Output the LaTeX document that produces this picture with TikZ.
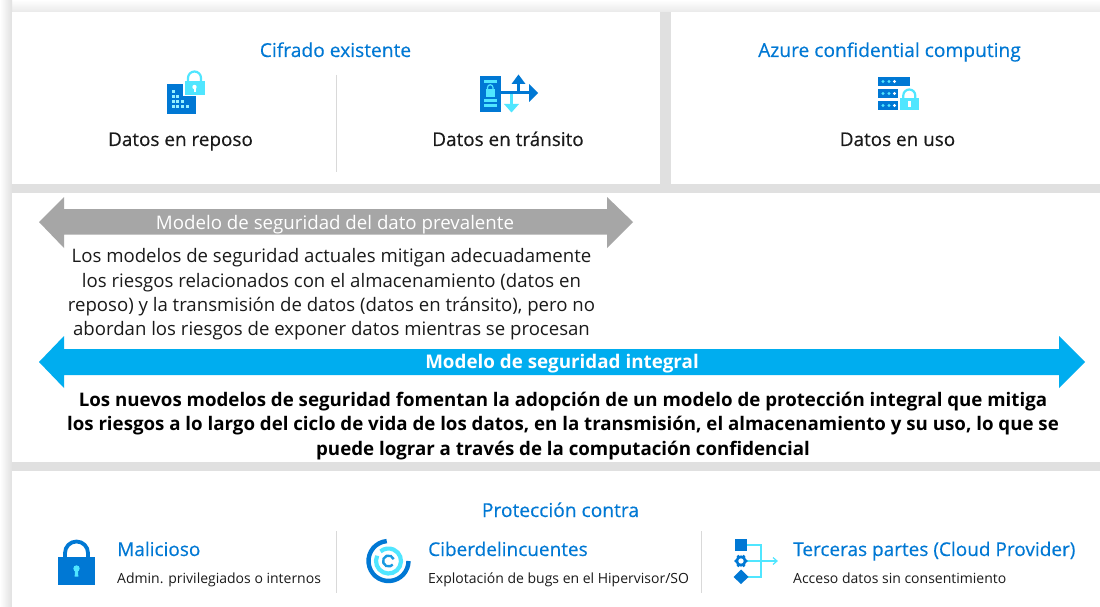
\documentclass[tikz,border=0pt]{standalone}
\usepackage{fontspec}
\setmainfont{Open Sans}
\newfontfamily\semi[FakeBold=0.35]{Open Sans}
\definecolor{azblue}{HTML}{0078D4}
\definecolor{azlight}{HTML}{50E6FF}
\definecolor{azcyan}{HTML}{00ADEF}
\definecolor{arrgray}{HTML}{A6A6A6}
\definecolor{bggray}{HTML}{E0E0E0}
\definecolor{divgray}{HTML}{D9D9D9}
\definecolor{txt}{HTML}{1A1A1A}
\tikzset{
  panel/.style={fill=white,draw=none},
  divider/.style={draw=divgray,line width=1pt},
  headtxt/.style={text=azblue,font=\fontsize{19.2}{22}\semi,inner sep=0pt,anchor=base},
  labeltxt/.style={text=txt,font=\fontsize{18.9}{22}\semi,inner sep=0pt,anchor=base},
  paratxt/.style={text=txt,font=\fontsize{18.6}{24.4}\selectfont,inner sep=0pt,align=center},
  boldtxt/.style={text=black,font=\fontsize{18.7}{24.5}\selectfont\bfseries,inner sep=0pt,align=center},
  subtxt/.style={text=txt,font=\fontsize{14}{16}\selectfont,inner sep=0pt,anchor=base west},
  protxt/.style={text=azblue,font=\fontsize{19}{22}\semi,inner sep=0pt,anchor=base west},
}
\begin{document}
\begin{tikzpicture}[x=1pt,y=-1pt]
\useasboundingbox (0,0) rectangle (1100,607);
\fill[bggray] (0,0) rectangle (1100,607);
\shade[top color=white,bottom color=bggray!70] (0,0) rectangle (1100,12);
\shade[left color=white,right color=bggray] (0,0) rectangle (12,607);
% panels
\fill[panel] (12,12) rectangle (660,184);
\fill[panel] (671,12) rectangle (1100,184);
\fill[panel] (12,193) rectangle (1100,462);
\fill[panel] (12,471) rectangle (1100,607);
% dividers
\coordinate (d1a) at (336,75); \coordinate (d1b) at (336,172);
\draw[divider] (d1a) -- (d1b);
\coordinate (d2a) at (336,531); \coordinate (d2b) at (336,593);
\draw[divider] (d2a) -- (d2b);
\coordinate (d3a) at (701,531); \coordinate (d3b) at (701,593);
\draw[divider] (d3a) -- (d3b);
% top headings
\node[headtxt] (h1) at (335.5,57) {Cifrado existente};
\node[headtxt] (h2) at (889.5,57) {Azure confidential computing};
\node[labeltxt] (l1) at (180.5,146) {Datos en reposo};
\node[labeltxt] (l2) at (508,146) {Datos en tránsito};
\node[labeltxt] (l3) at (897.5,146) {Datos en uso};
% icon: data at rest
\fill[azblue] (166.5,84.5) rectangle (183,114);
\fill[azblue] (183,96.5) rectangle (195.5,114);
\foreach \x/\y in {173/92,173/97,177.5/97,173/102,177.5/102,182/102,173/107,177.5/107,182/107,187.5/107}
  \fill[azlight!60!white] (\x-1.5,\y-1.5) rectangle (\x+1.5,\y+1.5);
\draw[azlight,line width=2.2pt] (188,82) -- (188,78) arc[start angle=180,end angle=360,radius=6.5] -- (201,82);
\fill[azlight] (184.5,81) rectangle (204.5,95);
\fill[white] (194.5,87) circle (2.2);
\fill[white] (193.5,87) rectangle (195.5,92);
% icon: data in transit
\fill[azblue] (480,76) rectangle (500.5,112);
\fill[azlight] (484,80) rectangle (496.5,83);
\fill[azlight] (484,99) rectangle (496.5,102);
\fill[azlight] (484,104) rectangle (496.5,107);
\fill[azlight] (485.5,89) rectangle (495,97);
\draw[azlight,line width=1.2pt] (487.5,89) -- (487.5,87.5) arc[start angle=180,end angle=360,radius=2.75] -- (493,89);
\fill[azblue] (500,91.5) rectangle (530,94.5);
\fill[azblue] (529,84) -- (538,93) -- (529,102) -- cycle;
\fill[azblue] (517,92) rectangle (520,82);
\fill[azblue] (511.5,84) -- (518.5,74.5) -- (525.5,84) -- cycle;
\fill[azlight] (510,94) rectangle (513,105);
\fill[azlight] (504,104) -- (511.5,112.5) -- (519,104) -- cycle;
% icon: data in use
\fill[azblue] (878,77) rectangle (909.5,86);
\fill[azblue] (878,89) rectangle (909.5,98);
\fill[azblue] (878,101) rectangle (909.5,110);
\foreach \y in {81.5,93.5,105.5}{
  \fill[azlight] (883,\y) circle (1.7);
  \fill[azlight] (889,\y) circle (1.7);
  \fill[white] (894.5,\y) circle (1.7);
}
\fill[white] (898,86) rectangle (921,112);
\draw[azlight,line width=2.2pt] (903.3,98) -- (903.3,95.5) arc[start angle=180,end angle=360,radius=6] -- (915.3,98);
\fill[azlight] (900,98) rectangle (918.5,110.5);
\fill[white] (908,101.5) rectangle (910.5,107);
% grey arrow
\fill[arrgray] (39,222) -- (64,197) -- (64,209) -- (607,209) -- (607,197) -- (633,222) -- (607,248) -- (607,234.5) -- (64,234.5) -- (64,248) -- cycle;
\node[text=white,font=\fontsize{18.7}{22}\selectfont,inner sep=0pt,anchor=base] (t1) at (335,229) {Modelo de seguridad del dato prevalente};
\node[paratxt] (p1) at (331.5,294.5) {Los modelos de seguridad actuales mitigan adecuadamente\\los riesgos relacionados con el almacenamiento (datos en\\reposo) y la transmisión de datos (datos en tránsito), pero no\\abordan los riesgos de exponer datos mientras se procesan};
% blue arrow
\fill[azcyan] (39,362) -- (64,336) -- (64,349) -- (1059,349) -- (1059,336) -- (1085,362) -- (1059,388) -- (1059,375) -- (64,375) -- (64,388) -- cycle;
\node[text=white,font=\fontsize{18.8}{22}\selectfont\bfseries,inner sep=0pt,anchor=base] (t2) at (562,368.5) {Modelo de seguridad integral};
\node[boldtxt] (p2) at (563,426) {Los nuevos modelos de seguridad fomentan la adopción de un modelo de protección integral que mitiga\\los riesgos a lo largo del ciclo de vida de los datos, en la transmisión, el almacenamiento y su uso, lo que se\\puede lograr a través de la computación confidencial};
% bottom
\node[headtxt] (h3) at (560.5,517) {Protección contra};
\node[protxt] (a1) at (117,556) {Malicioso};
\node[subtxt] (a2) at (117,583) {Admin. privilegiados o internos};
\node[protxt] (b1) at (428,556) {Ciberdelincuentes};
\node[subtxt] (b2) at (428,583) {Explotación de bugs en el Hipervisor/SO};
\node[protxt] (c1) at (793,556) {Terceras partes (Cloud Provider)};
\node[subtxt] (c2) at (793,583) {Acceso datos sin consentimiento};
% padlock icon
\draw[azblue,line width=3.8pt] (65,558) -- (65,553) arc[start angle=180,end angle=360,radius=11.5] -- (88,558);
\fill[azblue] (58,557) rectangle (95,584.5);
\fill[azlight] (76.5,568.5) circle (3.2);
\fill[azlight] (75,568.5) -- (78,568.5) -- (78.3,576.5) -- (74.7,576.5) -- cycle;
% cyber icon
\coordinate (cy) at (388.5,561);
\draw[azblue,line width=4.4pt] (cy) ++(-95:20) arc[start angle=-95,end angle=-360,radius=20];
\draw[azlight,line width=4.2pt] (cy) ++(-155:12.5) arc[start angle=-155,end angle=-490,radius=12.5];
\draw[azblue!70!azlight,line width=2.4pt] (cy) ++(-20:5.5) arc[start angle=-20,end angle=-320,radius=5.5];
% third parties icon
\fill[azblue] (735,539) rectangle (747,551);
\draw[azlight,line width=1.2pt] (747,545) -- (761,545) -- (761,577) -- (747,577);
\draw[azlight,line width=1.2pt] (747,561) -- (776,561);
\draw[azlight,line width=1.2pt] (773,557.5) -- (777,561) -- (773,564.5);
\draw[azblue,line width=2.6pt] (741,561) circle (4.2);
\foreach \a in {0,60,...,300}
  \fill[azblue] (741,561) ++(\a:5.2) circle (1.7);
\fill[azblue] (741,569.5) -- (748.5,577) -- (741,584) -- (733.5,577) -- cycle;
\end{tikzpicture}
\end{document}
